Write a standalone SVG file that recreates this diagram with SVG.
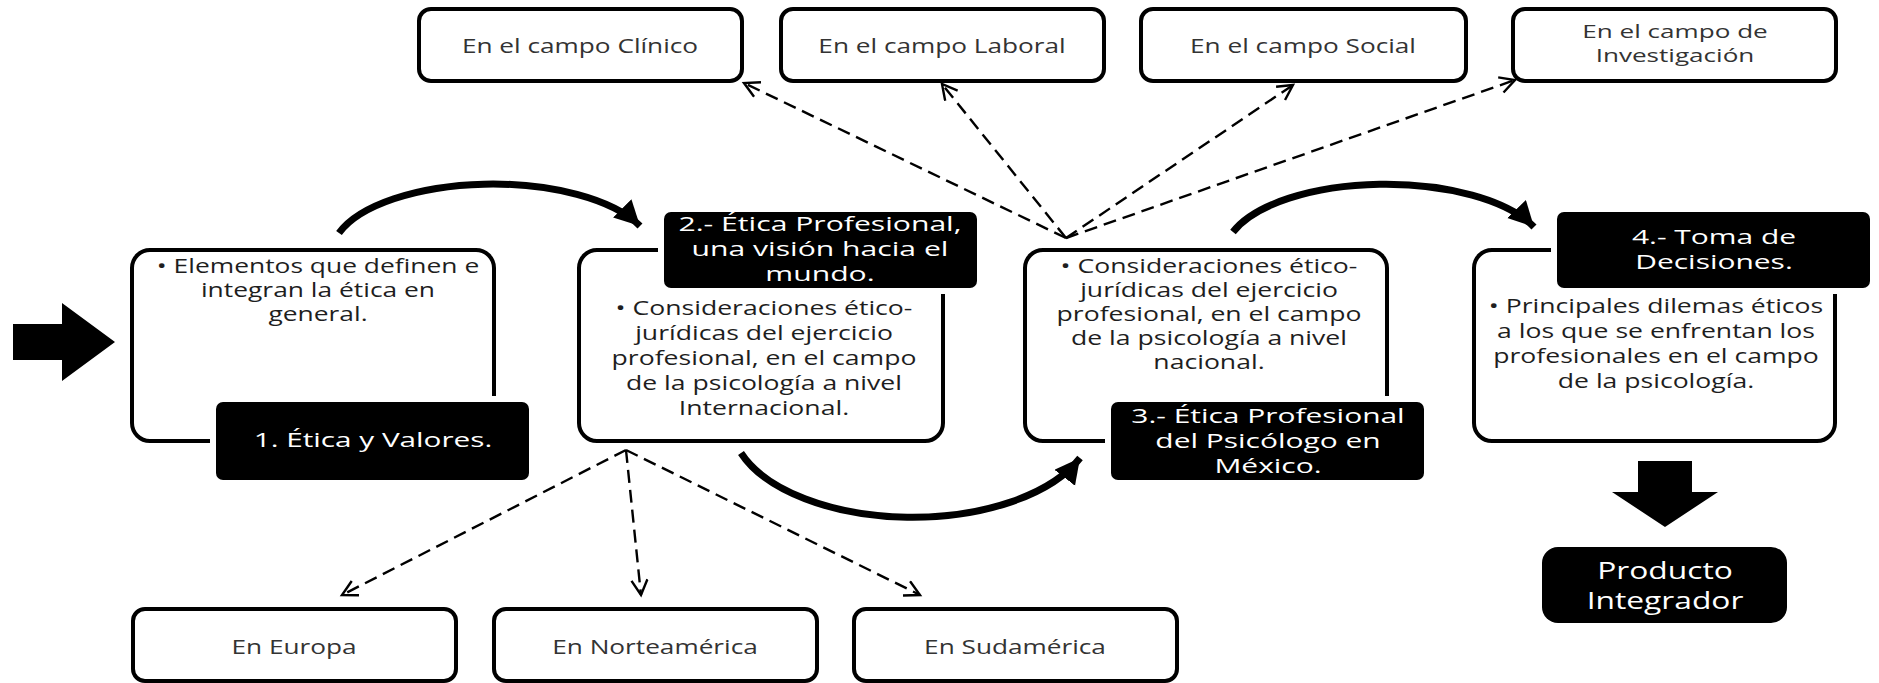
<svg xmlns="http://www.w3.org/2000/svg" width="1879" height="683" viewBox="0 0 1879 683">
<style>
.box{fill:#fff;stroke:#000;stroke-width:4}
.blk{fill:#000}
.halo{fill:#fff}
.outer{font-family:"Open Sans","Liberation Sans",sans-serif;font-size:20px;fill:#333}
.inner{font-family:"Open Sans","Liberation Sans",sans-serif;font-size:20px;fill:#1e1e1e}
.wt{font-family:"Open Sans","Liberation Sans",sans-serif;font-size:20.5px;fill:#fff}
.dash{fill:none;stroke:#000;stroke-width:2.4;stroke-dasharray:13 7;marker-end:url(#open)}
.curve{fill:none;stroke:#000;stroke-width:7;marker-end:url(#solid)}
</style>
<defs>
<marker id="open" markerUnits="userSpaceOnUse" markerWidth="20" markerHeight="20" refX="16" refY="9" orient="auto">
<path d="M1,1 L16,9 L1,17" fill="none" stroke="#000" stroke-width="2.4" stroke-dasharray="none"/>
</marker>
<marker id="solid" markerUnits="userSpaceOnUse" markerWidth="30" markerHeight="30" refX="25" refY="13" orient="auto">
<path d="M0,0 L25,13 L0,26 Z" fill="#000"/>
</marker>
</defs>

<g id="connectors">
<path class="curve" d="M339,233 A161 70 0 0 1 640,226"/>
<path class="curve" d="M741,453 A181 95 0 0 0 1080,458"/>
<path class="curve" d="M1233,232 A161 70 0 0 1 1534,227"/>
<line class="dash" x1="1066" y1="238" x2="744" y2="83"/>
<line class="dash" x1="1066" y1="238" x2="942" y2="84"/>
<line class="dash" x1="1066" y1="238" x2="1293" y2="85"/>
<line class="dash" x1="1066" y1="238" x2="1515" y2="80"/>
<line class="dash" x1="626" y1="450" x2="342" y2="595"/>
<line class="dash" x1="626" y1="450" x2="641" y2="595"/>
<line class="dash" x1="626" y1="450" x2="920" y2="595"/>
<polygon points="13,324 62,324 62,303 115,342 62,381 62,360 13,360" fill="#000"/>
<polygon points="1638,461 1692,461 1692,492 1718,492 1665,527 1612,492 1638,492" fill="#000"/>
</g>

<g id="n-clinico">
<rect class="box" x="419" y="9" width="323" height="72" rx="12"/>
<text class="outer" transform="translate(580,53) scale(1.31,1)" text-anchor="middle">En el campo Clínico</text>
</g>
<g id="n-laboral">
<rect class="box" x="781" y="9" width="323" height="72" rx="12"/>
<text class="outer" transform="translate(942,53) scale(1.31,1)" text-anchor="middle">En el campo Laboral</text>
</g>
<g id="n-social">
<rect class="box" x="1141" y="9" width="325" height="72" rx="12"/>
<text class="outer" transform="translate(1303,53) scale(1.31,1)" text-anchor="middle">En el campo Social</text>
</g>
<g id="n-investigacion">
<rect class="box" x="1513" y="9" width="323" height="72" rx="12"/>
<text class="outer" style="font-size:18px" transform="translate(1675,38) scale(1.45,1)" text-anchor="middle"><tspan x="0" y="0">En el campo  de</tspan><tspan x="0" y="24.5">Investigación</tspan></text>
</g>

<g id="n-1">
<rect class="box" x="132" y="250" width="362" height="191" rx="18"/>
<text class="inner" transform="translate(318,273) scale(1.32,1)" text-anchor="middle"><tspan x="0" y="0">• Elementos que definen e</tspan><tspan x="0" y="24">integran la ética en</tspan><tspan x="0" y="48">general.</tspan></text>
<rect class="halo" x="210" y="396" width="325" height="90" rx="10"/>
<rect class="blk" x="216" y="402" width="313" height="78" rx="7"/>
<text class="wt" transform="translate(373,447) scale(1.45,1)" text-anchor="middle">1. Ética y Valores.</text>
</g>

<g id="n-2">
<rect class="box" x="579" y="250" width="364" height="191" rx="18"/>
<text class="inner" transform="translate(764,315) scale(1.33,1)" text-anchor="middle"><tspan x="0" y="0">• Consideraciones ético-</tspan><tspan x="0" y="25">jurídicas del ejercicio</tspan><tspan x="0" y="50">profesional,  en el campo</tspan><tspan x="0" y="75">de la psicología a nivel</tspan><tspan x="0" y="100">Internacional.</tspan></text>
<rect class="halo" x="658" y="206" width="325" height="88" rx="10"/>
<rect class="blk" x="664" y="212" width="313" height="76" rx="7"/>
<text class="wt" transform="translate(820,231) scale(1.47,1)" text-anchor="middle"><tspan x="0" y="0">2.-  Ética Profesional,</tspan><tspan x="0" y="25">una visión hacia el</tspan><tspan x="0" y="50">mundo.</tspan></text>
</g>

<g id="n-3">
<rect class="box" x="1025" y="250" width="362" height="191" rx="18"/>
<text class="inner" transform="translate(1209,273) scale(1.33,1)" text-anchor="middle"><tspan x="0" y="0">• Consideraciones ético-</tspan><tspan x="0" y="24">jurídicas del ejercicio</tspan><tspan x="0" y="48">profesional, en el campo</tspan><tspan x="0" y="72">de la psicología a nivel</tspan><tspan x="0" y="96">nacional.</tspan></text>
<rect class="halo" x="1105" y="396" width="325" height="90" rx="10"/>
<rect class="blk" x="1111" y="402" width="313" height="78" rx="7"/>
<text class="wt" transform="translate(1268,423) scale(1.46,1)" text-anchor="middle"><tspan x="0" y="0">3.- Ética Profesional</tspan><tspan x="0" y="25">del Psicólogo en</tspan><tspan x="0" y="50">México.</tspan></text>
</g>

<g id="n-4">
<rect class="box" x="1474" y="250" width="361" height="191" rx="18"/>
<text class="inner" transform="translate(1656,313) scale(1.33,1)" text-anchor="middle"><tspan x="0" y="0">• Principales dilemas éticos</tspan><tspan x="0" y="25">a los que se enfrentan los</tspan><tspan x="0" y="50">profesionales en el campo</tspan><tspan x="0" y="75">de la psicología.</tspan></text>
<rect class="halo" x="1551" y="206" width="325" height="88" rx="10"/>
<rect class="blk" x="1557" y="212" width="313" height="76" rx="7"/>
<text class="wt" transform="translate(1714,244) scale(1.46,1)" text-anchor="middle"><tspan x="0" y="0">4.- Toma de</tspan><tspan x="0" y="25">Decisiones.</tspan></text>
</g>

<g id="n-producto">
<rect class="blk" x="1542" y="547" width="245" height="76" rx="16"/>
<text class="wt" style="font-size:23px" transform="translate(1665,579) scale(1.38,1)" text-anchor="middle"><tspan x="0" y="0">Producto</tspan><tspan x="0" y="30">Integrador</tspan></text>
</g>

<g id="n-europa">
<rect class="box" x="133" y="609" width="323" height="72" rx="12"/>
<text class="outer" transform="translate(294,654) scale(1.31,1)" text-anchor="middle">En Europa</text>
</g>
<g id="n-norteamerica">
<rect class="box" x="494" y="609" width="323" height="72" rx="12"/>
<text class="outer" transform="translate(655,654) scale(1.31,1)" text-anchor="middle">En Norteamérica</text>
</g>
<g id="n-sudamerica">
<rect class="box" x="854" y="609" width="323" height="72" rx="12"/>
<text class="outer" transform="translate(1015,654) scale(1.31,1)" text-anchor="middle">En Sudamérica</text>
</g>
</svg>
